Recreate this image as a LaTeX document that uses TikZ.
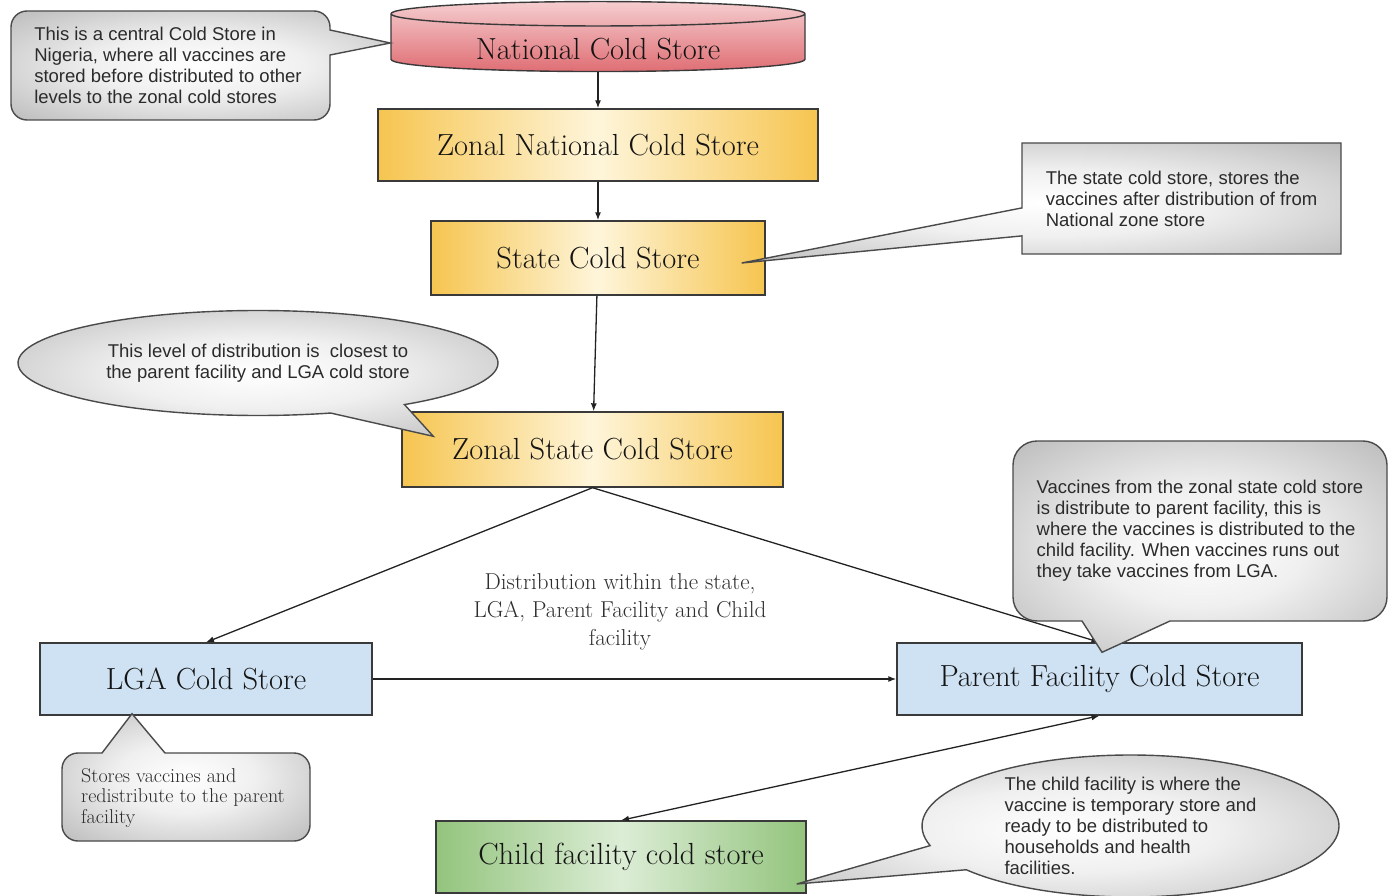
\documentclass[tikz,border=0pt]{standalone}
\usepackage{fontspec}
\newfontfamily\notefont{Liberation Sans}
\usetikzlibrary{arrows.meta, shapes.geometric, shapes.callouts}

\definecolor{natTop}{HTML}{F5CDCF}
\definecolor{natBot}{HTML}{DF6E74}
\definecolor{goldedge}{HTML}{F6C550}
\definecolor{goldmid}{HTML}{FEF5DA}
\definecolor{lgablue}{HTML}{CFE2F3}
\definecolor{greenedge}{HTML}{93C47D}
\definecolor{greenmid}{HTML}{DCEDD6}
\definecolor{boxline}{HTML}{3A3A3A}
\definecolor{linkcol}{HTML}{222222}
\definecolor{noteline}{HTML}{4A4A4A}
\definecolor{notetextcol}{HTML}{2B2B2B}
\definecolor{labeltext}{HTML}{141414}
\definecolor{midtext}{HTML}{2E2E2E}

\pgfdeclareradialshading{notegray}{\pgfpoint{0bp}{0bp}}{color(0bp)=(white); color(14bp)=(white!94!black); color(50bp)=(black!40)}

\begin{document}
\begin{tikzpicture}[x=1pt, y=-1pt,
    storebox/.style={draw=boxline, line width=1.4pt, inner sep=0pt, minimum height=72pt,
        font=\fontsize{30.5}{36}\selectfont, text=labeltext},
    goldbox/.style={storebox, left color=goldedge, right color=goldedge, middle color=goldmid},
    bluebox/.style={storebox, fill=lgablue},
    greenbox/.style={storebox, left color=greenedge, right color=greenedge, middle color=greenmid},
    link/.style={draw=linkcol, line width=1.3pt, >={Latex[length=8pt, width=6pt]}},
    noteshape/.style={draw=noteline, line width=1.4pt, shade, shading=notegray},
    notetext/.style={font=\notefont\fontsize{18.5}{21}\selectfont, text=notetextcol, align=left}]
    \useasboundingbox (0,0) rectangle (1395,896);
    % cold stores
    \node[cylinder, shape border rotate=90, aspect=0.1, draw=boxline, line width=1.4pt,
        top color=natTop, bottom color=natBot, minimum width=414pt, minimum height=70pt,
        inner sep=0pt, font=\fontsize{30.5}{36}\selectfont, text=labeltext]
        (national) at (598,43) {\raisebox{-17pt}[0pt][0pt]{National Cold Store}};
    \node[goldbox, minimum width=440pt] (zonal) at (598,145) {Zonal National Cold Store};
    \node[goldbox, minimum width=334pt, minimum height=74pt] (state) at (598,258) {State Cold Store};
    \node[goldbox, minimum width=381pt, minimum height=75pt] (zstate) at (592.5,449.5) {Zonal State Cold Store};
    \node[bluebox, minimum width=332pt] (lga) at (206,679) {LGA Cold Store};
    \node[bluebox, minimum width=405pt] (parent) at (1099.5,679) {Parent Facility Cold Store};
    \node[greenbox, minimum width=370pt] (child) at (621,857) {Child facility cold store};
    \node[font=\fontsize{23}{28}\selectfont, text=midtext, align=center] (distnote) at (620,612)
        {Distribution within the state,\\LGA, Parent Facility and Child\\facility};
    % links
    \draw[link, ->] (national) -- (zonal);
    \draw[link, ->] (zonal) -- (state);
    \draw[link, ->] (state) -- (zstate);
    \draw[link, ->] (zstate.south) -- (lga.north);
    \draw[link, ->] (zstate.south) -- (parent.north);
    \draw[link, ->] (lga) -- (parent);
    \draw[link, <->] (child.north) -- (parent.south);
    % notes
    \path[noteshape] (170,11) [rounded corners=16pt] -- (330,11) [sharp corners] -- (330,30)
        -- (national.west) -- (330,55) [rounded corners=16pt] -- (330,120) -- (11,120) -- (11,11) -- cycle;
    \node[notetext] (natnote) at (168,65.5) {This is a central Cold Store in\\Nigeria, where all vaccines are\\stored before distributed to other\\levels to the zonal cold stores};
    \node[rectangle callout, noteshape, notetext, minimum width=319pt, minimum height=111pt, inner sep=0pt,
        callout absolute pointer={([xshift=-24pt, yshift=-5pt]state.east)}, callout pointer width=28pt]
        (statenote) at (1181.5,198.5) {The state cold store, stores the\\vaccines after distribution of from\\National zone store};
    \node[ellipse callout, noteshape, notetext, align=center, minimum width=480pt, minimum height=105pt, inner sep=0pt,
        callout absolute pointer={([xshift=32pt, yshift=-25pt]zstate.north west)}, callout pointer arc=20]
        (zsnote) at (258,363) {This level of distribution is\ \ closest to\\the parent facility and LGA cold store};
    \path[noteshape] (1200,441) [rounded corners=24pt] -- (1387,441) -- (1387,621) [sharp corners] -- (1170,621)
        -- ([xshift=2.5pt, yshift=-10pt]parent.north) -- (1082,621) [rounded corners=24pt] -- (1013,621) -- (1013,441) -- cycle;
    \node[notetext] (parnote) at (1200,531) {Vaccines from the zonal state cold store\\is distribute to parent facility, this is\\where the vaccines is distributed to the\\child facility. When vaccines runs out\\they take vaccines from LGA.};
    \path[noteshape] (186,841) [rounded corners=16pt] -- (62,841) -- (62,753) [sharp corners] -- (102,753)
        -- ([xshift=-74pt, yshift=2pt]lga.south) -- (165,753) [rounded corners=16pt] -- (310,753) -- (310,841) -- cycle;
    \node[notetext, font=\fontsize{20}{20.5}\selectfont] (lganote) at (183,798) {Stores vaccines and\\redistribute to the parent\\facility};
    \node[ellipse callout, noteshape, notetext, minimum width=417pt, minimum height=142pt, inner sep=0pt,
        callout absolute pointer={([xshift=-10pt, yshift=-27pt]child.east)}, callout pointer arc=22]
        (childnote) at (1130.5,826) {The child facility is where the\\vaccine is temporary store and\\ready to be distributed to\\households and health\\facilities.};
\end{tikzpicture}
\end{document}
